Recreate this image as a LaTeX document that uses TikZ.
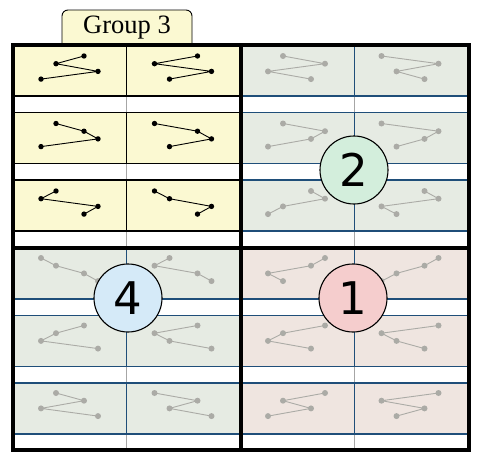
\documentclass[tikz,border=0pt]{standalone}
\usepackage{fontspec}
\setmainfont{Liberation Serif}
\newfontfamily\digitfont{DejaVu Sans}
\definecolor{permYellow}{HTML}{FBF9D2}
\definecolor{permSage}{HTML}{E6EBE3}
\definecolor{permRose}{HTML}{EFE5E0}
\definecolor{permBlue}{HTML}{1F4E79}
\definecolor{permGray}{HTML}{ABABA6}
\definecolor{permMint}{HTML}{D3EEDC}
\definecolor{permSky}{HTML}{D5EAF8}
\definecolor{permPink}{HTML}{F5CDCD}
\tikzset{
  perm frame/.style={draw=black, line width=3.6pt},
  perm cell/.style={line width=1.1pt},
  perm divider/.style={draw=gray!70, line width=0.9pt},
  perm badge/.style={circle, draw=black, line width=1.1pt, minimum size=68pt, inner sep=0pt, font=\digitfont\fontsize{45}{45}\selectfont},
  perm tab/.style={draw=black, line width=0.9pt, fill=permYellow},
  perm label/.style={font=\fontsize{26.5}{30}\selectfont},
}
% one small zig-zag: #1 cell left, #2 cell top, #3 x-levels top to bottom, #4 colour, #5 dot radius
\newcommand{\permglyph}[5]{%
  \foreach \p [count=\k] in {#3} {
    \pgfmathsetmacro\px{#1+{28,43,71,85}[\p-1]}
    \pgfmathsetmacro\py{#2+11+7.7*(\k-1)}
    \coordinate (g\k) at (\px,\py);
  }
  \draw[draw=#4, line width=0.9pt] (g1) -- (g2) -- (g3) -- (g4);
  \foreach \k in {1,...,4} {\fill[#4] (g\k) circle (#5);}
}

\begin{document}
\begin{tikzpicture}[x=1pt, y=-1pt]
  \useasboundingbox (0,0) rectangle (480,463);
  % Tab on top of group 3
  \draw[perm tab] (62,46) [rounded corners=6pt] -- (62,10) -- (192,10) -- (192,46);
  \node[perm label] (tab3) at (127,28) {Group 3};
  % Column dividers through the white strips
  \draw[perm divider] (126.5,45) -- (126.5,450);
  \draw[perm divider] (354.5,45) -- (354.5,450);
  % Cells of the four groups
  \foreach \gx/\gy/\gfill/\gline in {13/45/permYellow/black, 241/45/permSage/permBlue,
      13/248/permSage/permBlue, 241/248/permRose/permBlue}
    \foreach \row in {0,1,2}
      \foreach \col in {0,1}
        \filldraw[perm cell, fill=\gfill, draw=\gline] (\gx+\col*113.5,\gy+\row*67.5) rectangle ++(113.5,51);
  % Group 3: the 4 sits third
  \foreach \row/\col/\pa/\pb/\pc/\pd in {0/0/3/2/4/1, 0/1/3/1/4/2, 1/0/2/3/4/1,
      1/1/1/3/4/2, 2/0/2/1/4/3, 2/1/1/2/4/3}
    {\permglyph{13+\col*113.5}{45+\row*67.5}{\pa,\pb,\pc,\pd}{black}{2.7pt}}
  % Group 2: the 4 sits second
  \foreach \row/\col/\pa/\pb/\pc/\pd in {0/0/2/4/1/3, 0/1/1/4/2/3, 1/0/2/4/3/1,
      1/1/1/4/3/2, 2/0/3/4/2/1, 2/1/3/4/1/2}
    {\permglyph{240+\col*113.5}{45+\row*67.5}{\pa,\pb,\pc,\pd}{permGray}{3pt}}
  % Group 4: the 4 sits last
  \foreach \row/\col/\pa/\pb/\pc/\pd in {0/0/1/2/3/4, 0/1/2/1/3/4, 1/0/3/2/1/4,
      1/1/3/1/2/4, 2/0/2/3/1/4, 2/1/1/3/2/4}
    {\permglyph{13+\col*113.5}{247+\row*67.5}{\pa,\pb,\pc,\pd}{permGray}{3pt}}
  % Group 1: the 4 sits first
  \foreach \row/\col/\pa/\pb/\pc/\pd in {0/0/4/3/1/2, 0/1/4/3/2/1, 1/0/4/2/1/3,
      1/1/4/1/2/3, 2/0/4/2/3/1, 2/1/4/1/3/2}
    {\permglyph{240+\col*113.5}{247+\row*67.5}{\pa,\pb,\pc,\pd}{permGray}{3pt}}
  % Heavy frame and cross
  \draw[perm frame] (13,45) rectangle (469,450);
  \draw[perm frame] (241,45) -- (241,450);
  \draw[perm frame] (13,248) -- (469,248);
  % Numbered badges
  \node[perm badge, fill=permMint] (badge2) at (354,170) {2};
  \node[perm badge, fill=permSky] (badge4) at (128,298) {4};
  \node[perm badge, fill=permPink] (badge1) at (353,298) {1};
\end{tikzpicture}
\end{document}
